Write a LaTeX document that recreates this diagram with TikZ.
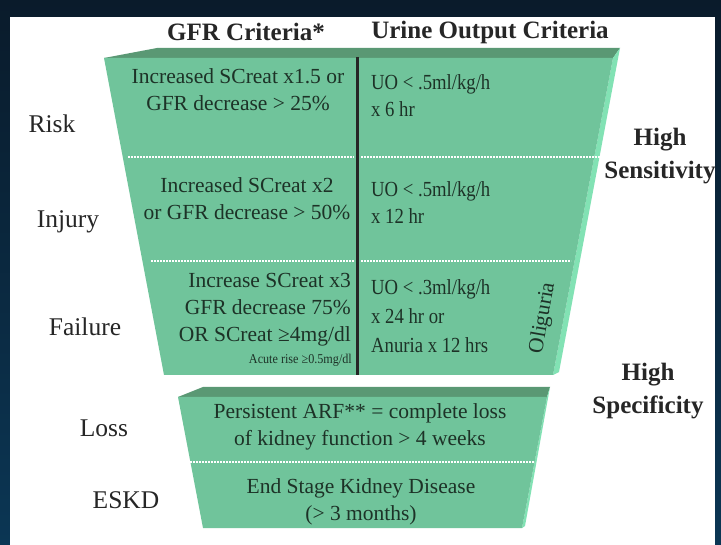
\documentclass[tikz,border=0pt]{standalone}
\usepackage{fontspec}
\setmainfont{Liberation Serif}
\usetikzlibrary{positioning}
\definecolor{framedark}{HTML}{0A1B2B}
\definecolor{framelight}{HTML}{0B3654}
\definecolor{facegreen}{HTML}{70C49B}
\definecolor{topgreen}{HTML}{5A9874}
\definecolor{sidegreen}{HTML}{82E2B4}
\definecolor{celltext}{HTML}{1D3227}
\definecolor{labeltext}{HTML}{262626}

\begin{document}
\begin{tikzpicture}[x=1pt,y=-1pt]
  \tikzset{
    cell/.style={font=\fontsize{21.5}{27}\selectfont, text=celltext, inner sep=0pt},
    gfrcell/.style={cell, align=center},
    uocell/.style={cell, align=left, anchor=west, xscale=0.87},
    stage/.style={font=\fontsize{25.5}{28}\selectfont, text=labeltext, inner sep=0pt},
    heading/.style={font=\fontsize{25}{28}\selectfont\bfseries, text=labeltext, inner sep=0pt},
    sidenote/.style={font=\fontsize{25}{33}\selectfont\bfseries, text=labeltext, align=center, inner sep=0pt},
    dotline/.style={white, line width=1.6pt, dash pattern=on 1.6pt off 1.4pt},
  }
  % frame
  \shade[top color=framedark, bottom color=framelight] (0,0) rectangle (721,545);
  \fill[white] (10,17) rectangle (715,545);

  % upper funnel: risk, injury, failure
  \coordinate (utl) at (104,58);
  \coordinate (utr) at (613,58);
  \coordinate (ubl) at (164,375);
  \coordinate (ubr) at (553,375);
  \fill[topgreen] (utl) -- (157,48) -- (620,48) -- (utr) -- cycle;
  \fill[sidegreen] (utr) -- (620,48) -- (559,372) -- (ubr) -- cycle;
  \fill[facegreen] (utl) -- (utr) -- (ubr) -- (ubl) -- cycle;
  \draw[line width=3pt, black!85] (357,57) -- (357,375);
  \foreach \y/\xl/\xr in {157/128/600, 261/151/571} {
    \draw[dotline] (\xl,\y) -- (354,\y);
    \draw[dotline] (361,\y) -- (\xr,\y);
  }

  % lower funnel: loss, eskd
  \coordinate (ltl) at (178,397);
  \coordinate (ltr) at (547,397);
  \coordinate (lbl) at (203,528);
  \coordinate (lbr) at (522,528);
  \fill[topgreen] (ltl) -- (203,387) -- (550,387) -- (ltr) -- cycle;
  \fill[sidegreen] (ltr) -- (550,387) -- (525,526) -- (lbr) -- cycle;
  \fill[facegreen] (ltl) -- (ltr) -- (lbr) -- (lbl) -- cycle;
  \draw[dotline] (184,462) -- (534,462);

  % column headings
  \node[heading] (gfrhead) at (246,32) {GFR Criteria*};
  \node[heading] (uohead) at (490,32) {Urine Output Criteria};

  % stages
  \node[stage] (risk) at (52,124) {Risk};
  \node[stage] (injury) at (68,222) {Injury};
  \node[stage] (failure) at (85,327) {Failure};
  \node[stage] (loss) at (104,428) {Loss};
  \node[stage] (eskd) at (126,500) {ESKD};

  % criteria
  \node[gfrcell] (riskgfr) at (238,90) {Increased SCreat x1.5 or\\GFR decrease > 25\%};
  \node[uocell] (riskuo) at (371,96) {UO < .5ml/kg/h\\x 6 hr};
  \node[gfrcell] (injurygfr) at (247,199) {Increased SCreat x2\\or GFR decrease > 50\%};
  \node[uocell] (injuryuo) at (371,203) {UO < .5ml/kg/h\\x 12 hr};
  \node[cell, align=right, anchor=east] (failuregfr) at (351,310)
    {Increase SCreat x3\\GFR decrease 75\%\\OR SCreat ≥4mg/dl};
  \node[cell, font=\fontsize{13.5}{15}\selectfont, anchor=east, xscale=0.9] (acute) at (352,360) {Acute rise ≥0.5mg/dl};
  \node[uocell, font=\fontsize{21.5}{29}\selectfont] (failureuo) at (371,316)
    {UO < .3ml/kg/h\\x 24 hr or\\Anuria x 12 hrs};
  \node[cell, rotate=80] (olig) at (543,318) {Oliguria};
  \node[gfrcell] (lossdesc) at (360,427) {Persistent ARF** = complete loss\\of kidney function > 4 weeks};
  \node[gfrcell] (eskddesc) at (361,502) {End Stage Kidney Disease\\(> 3 months)};

  % sensitivity / specificity
  \node[sidenote] (sens) at (660,156) {High\\Sensitivity};
  \node[sidenote] (spec) at (648,391) {High\\Specificity};
\end{tikzpicture}
\end{document}
